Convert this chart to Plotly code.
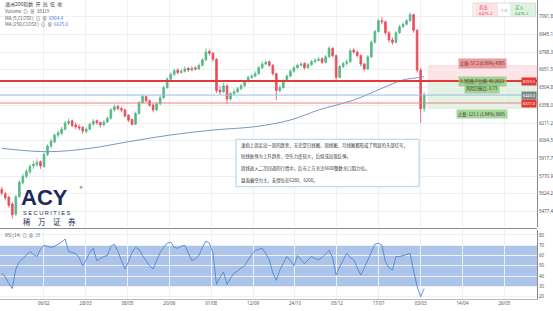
import plotly.graph_objects as go

# ---------------- data ----------------
closes = [5630, 5590, 5530, 5450, 5600, 5720, 5770, 5810, 5850, 5870,
          5885, 5855, 5950, 6020, 6060, 6110, 6130, 6160, 6210, 6225,
          6190, 6180, 6170, 6145, 6160, 6200, 6225, 6215, 6195, 6220,
          6250, 6320, 6345, 6330, 6320, 6270, 6235, 6200, 6290, 6380,
          6430, 6395, 6360, 6320, 6370, 6420, 6505, 6575, 6615, 6645,
          6630, 6640, 6660, 6650, 6665, 6660, 6690, 6735, 6800, 6790,
          6740, 6480, 6470, 6520, 6410, 6455, 6470, 6495, 6520, 6555,
          6590, 6600, 6620, 6670, 6700, 6715, 6690, 6620, 6480, 6505,
          6560, 6600, 6640, 6670, 6690, 6700, 6670, 6695, 6720, 6730,
          6740, 6715, 6760, 6830, 6770, 6590, 6680, 6705, 6720, 6810,
          6800, 6770, 6700, 6660, 6760, 6880, 6970, 7060, 7050, 6960,
          6900, 6880, 6960, 7010, 7030, 7060, 7110, 6980, 6650, 6330,
          6443]
opens = [5660, 5625, 5595, 5540, 5455, 5600, 5715, 5770, 5805, 5855,
         5865, 5890, 5850, 5950, 6020, 6055, 6110, 6125, 6160, 6210,
         6230, 6195, 6180, 6175, 6140, 6160, 6200, 6230, 6215, 6195,
         6220, 6250, 6320, 6350, 6330, 6320, 6275, 6240, 6200, 6290,
         6380, 6430, 6395, 6360, 6320, 6370, 6420, 6505, 6575, 6615,
         6650, 6630, 6640, 6665, 6650, 6670, 6660, 6690, 6735, 6805,
         6790, 6740, 6485, 6470, 6520, 6410, 6455, 6470, 6495, 6520,
         6555, 6590, 6600, 6620, 6670, 6700, 6720, 6690, 6620, 6480,
         6505, 6560, 6600, 6640, 6670, 6690, 6705, 6670, 6695, 6720,
         6730, 6745, 6715, 6760, 6830, 6770, 6590, 6680, 6705, 6720,
         6815, 6800, 6770, 6700, 6660, 6760, 6880, 6970, 7060, 7050,
         6960, 6900, 6880, 6960, 7010, 7030, 7060, 7110, 6980, 6650,
         6330]
highs = [5680, 5640, 5610, 5555, 5615, 5735, 5790, 5830, 5870, 5895,
         5910, 5900, 5965, 6035, 6080, 6125, 6150, 6180, 6230, 6250,
         6240, 6215, 6200, 6185, 6175, 6215, 6245, 6240, 6225, 6235,
         6265, 6335, 6365, 6360, 6345, 6330, 6285, 6250, 6305, 6395,
         6450, 6440, 6405, 6375, 6385, 6435, 6520, 6590, 6630, 6660,
         6665, 6660, 6680, 6675, 6685, 6680, 6705, 6750, 6830, 6820,
         6800, 6750, 6520, 6545, 6530, 6470, 6490, 6510, 6535, 6570,
         6605, 6620, 6640, 6685, 6720, 6735, 6730, 6700, 6630, 6525,
         6575, 6615, 6655, 6685, 6705, 6720, 6715, 6710, 6735, 6750,
         6760, 6755, 6775, 6850, 6840, 6780, 6695, 6720, 6740, 6830,
         6835, 6810, 6780, 6710, 6775, 6895, 6985, 7075, 7090, 7060,
         6975, 6920, 6975, 7025, 7045, 7075, 7130, 7120, 6990, 6670,
         6470]
lows = [5610, 5570, 5510, 5420, 5440, 5590, 5700, 5750, 5790, 5830,
        5850, 5830, 5840, 5935, 6000, 6045, 6090, 6110, 6150, 6195,
        6175, 6160, 6150, 6120, 6125, 6150, 6190, 6195, 6175, 6185,
        6210, 6240, 6305, 6315, 6300, 6255, 6220, 6190, 6195, 6280,
        6370, 6380, 6345, 6300, 6310, 6360, 6410, 6495, 6560, 6600,
        6615, 6620, 6630, 6635, 6640, 6645, 6650, 6680, 6725, 6770,
        6720, 6460, 6445, 6460, 6370, 6395, 6440, 6460, 6480, 6510,
        6545, 6575, 6590, 6610, 6660, 6690, 6675, 6605, 6400, 6465,
        6495, 6550, 6590, 6630, 6660, 6680, 6655, 6660, 6685, 6705,
        6720, 6700, 6705, 6750, 6755, 6570, 6580, 6665, 6690, 6710,
        6785, 6755, 6680, 6640, 6650, 6750, 6870, 6960, 7030, 6940,
        6880, 6860, 6870, 6950, 7000, 7020, 7050, 6960, 6630, 6211,
        6300]
rsi_values = [43, 39, 33, 28, 47, 54, 57, 61, 64, 61,
              59, 66, 70, 69, 68, 69, 71, 73, 76, 64,
              63, 62, 58, 50, 56, 63, 67, 55, 57, 59,
              60, 69, 71, 64, 55, 47, 54, 63, 68, 66,
              60, 55, 50, 47, 55, 63, 68, 72, 73, 68,
              67, 69, 70, 62, 55, 57, 60, 68, 74, 72,
              62, 32, 39, 44, 32, 38, 43, 45, 48, 50,
              56, 61, 65, 66, 67, 62, 56, 43, 36, 46,
              52, 59, 55, 50, 60, 56, 52, 56, 59, 57,
              56, 58, 62, 65, 58, 41, 49, 55, 62, 58,
              56, 48, 41, 48, 56, 64, 71, 72, 70, 54,
              48, 46, 59, 59, 60, 61, 62, 45, 30, 20,
              28]
ma250_bars = [0, 13, 25, 36, 48, 60, 72, 82, 90, 100, 108, 114, 119, 120]
ma250_values = [6001, 5973, 6001, 6056, 6112, 6153, 6181, 6236, 6319, 6402, 6499, 6568, 6590, 6595]

x_tick_labels = ["06/02", "28/03", "08/05", "20/06", "01/08", "12/09",
                 "24/10", "05/12", "17/01", "03/03", "14/04", "26/05"]
y_tick_values = [5477.4, 5624.2, 5770.9, 5917.7, 6064.5, 6211.2,
                 6358.0, 6504.8, 6651.5, 6798.3, 6945.1, 7091.8]
rsi_tick_values = [20, 30, 40, 50, 60, 70, 80]

resistance_level = 6559.5
support_level = 6377.0
stop_level = 6692.0
target_level = 6327.3
position_start_bar = 121

legend_lines = ["澳洲200指数  开  高  低  收", "Volume  ⊙  ⊗  38319"]
ma_legend = [("MA (5,CLOSE)", "6904.4"), ("MA (250,CLOSE)", "6625.0")]
comment_lines = [
    "澳指上周走出一周的跌势，无论是日线图、周线图、月线图都形成了明显的头部信号，",
    "短线依然为上升趋势，空头力度较大，后续或出现反弹。",
    "周线进入二次回调的行情中，后市上方关注6600整数关口阻力位。",
    "盘面偏空为主，支撑位在6280、6200。",
]
position_labels = ["止损: 57.2 (0.86%) 4995", "1.3倍账户比例: 46.2622", "风险回报比: 0.73", "止盈: 121.1 (1.84%) 9665"]
quote_sell = ("卖出", "6475.2")
quote_buy = ("买入", "6476.2")
quote_spread = "1.0"

# ---------------- layout helpers ----------------
W, H = 553, 311
ML, MR, MT, MB = 0, 16, 0, 12
PW, PH = W - ML - MR, H - MT - MB
BAR_PX = 3.52
x_range = [-0.5, PW / BAR_PX - 0.5]
y_range = [5348.6, 7231.4]
rsi_range = [17.8, 84.8]


def px(x):
    return x / PW


def py(y):
    return 1 - y / PH


CJK = "Noto Sans CJK SC"
bars = list(range(len(closes)))
tick_pos = [round(11.9 * (k + 1), 1) for k in range(len(x_tick_labels))]

fig = go.Figure()
fig.add_trace(go.Candlestick(
    x=bars, open=opens, high=highs, low=lows, close=closes,
    increasing=dict(line=dict(color="#53b987", width=0.8), fillcolor="#53b987"),
    decreasing=dict(line=dict(color="#eb4d5c", width=0.8), fillcolor="#eb4d5c"),
    whiskerwidth=0, xaxis="x", yaxis="y", hoverinfo="skip"))
fig.add_trace(go.Scatter(x=ma250_bars, y=ma250_values, mode="lines",
                         line=dict(color="#7896c6", width=1, shape="spline"),
                         xaxis="x", yaxis="y", hoverinfo="skip"))
fig.add_trace(go.Scatter(x=bars, y=rsi_values, mode="lines", line=dict(color="#4f86cc", width=0.9),
                         xaxis="x2", yaxis="y2", hoverinfo="skip"))

grid = "#eef0f4"
tickfont = dict(family="Noto Sans", size=4.5, color="#555")
fig.update_layout(
    width=W, height=H, margin=dict(l=ML, r=MR, t=MT, b=MB, pad=0),
    paper_bgcolor="white", plot_bgcolor="white", showlegend=False,
    xaxis=dict(domain=[0, 1], anchor="y", range=x_range, tickvals=tick_pos, showticklabels=False,
               showgrid=True, gridcolor=grid, gridwidth=1, zeroline=False, rangeslider=dict(visible=False),
               automargin=False),
    yaxis=dict(domain=[1 - 227 / PH, 1], anchor="x", side="right", range=y_range, tickvals=y_tick_values,
               ticktext=[f"{v:.1f}" for v in y_tick_values], tickfont=tickfont, showgrid=True, gridcolor=grid,
               zeroline=False, showline=True, linecolor="#8a8a8a", linewidth=1, ticks="", automargin=False),
    xaxis2=dict(domain=[0, 1], anchor="y2", range=x_range, matches="x", tickvals=tick_pos, ticktext=x_tick_labels,
                tickfont=tickfont, showgrid=True, gridcolor=grid, zeroline=False, showline=True,
                linecolor="#bbbbbb", ticks="", automargin=False),
    yaxis2=dict(domain=[0, 1 - 230 / PH], anchor="x2", side="right", range=rsi_range, tickvals=rsi_tick_values,
                tickfont=tickfont, showgrid=True, gridcolor=grid, zeroline=False, showline=True,
                linecolor="#8a8a8a", linewidth=1, ticks="", automargin=False),
)

shapes = [
    dict(type="rect", xref="paper", yref="y2", x0=0, x1=1, y0=30, y1=70, fillcolor="rgb(172,196,234)",
         line=dict(width=0), layer="below"),
    dict(type="rect", xref="x", yref="y", x0=position_start_bar, x1=x_range[1], y0=resistance_level, y1=stop_level,
         fillcolor="rgba(242,54,69,0.13)", line=dict(width=0), layer="below"),
    dict(type="rect", xref="x", yref="y", x0=position_start_bar, x1=x_range[1], y0=target_level, y1=resistance_level,
         fillcolor="rgba(76,175,80,0.16)", line=dict(width=0), layer="below"),
    dict(type="line", xref="paper", yref="y", x0=0, x1=1, y0=resistance_level, y1=resistance_level,
         line=dict(color="#e53935", width=2)),
    dict(type="line", xref="paper", yref="y", x0=0, x1=1, y0=closes[-1], y1=closes[-1],
         line=dict(color="#9dbbdc", width=1)),
    dict(type="line", xref="paper", yref="y", x0=0, x1=1, y0=support_level, y1=support_level,
         line=dict(color="#ee8080", width=1)),
    dict(type="line", xref="paper", yref="paper", x0=0, x1=1, y0=py(228.5), y1=py(228.5),
         line=dict(color="#8a8a8a", width=1)),
    dict(type="rect", xref="paper", yref="paper", x0=px(236), x1=px(419), y0=py(186.7), y1=py(139.3),
         fillcolor="white", line=dict(color="#a9d2e3", width=1)),
    dict(type="rect", xref="paper", yref="paper", x0=px(473), x1=px(535.5), y0=py(16.5), y1=py(3),
         fillcolor="white", line=dict(color="#dddddd", width=1)),
    dict(type="rect", xref="paper", yref="paper", x0=px(474.5), x1=px(498), y0=py(16), y1=py(3.5),
         fillcolor="rgba(242,54,69,0.14)", line=dict(width=0)),
    dict(type="rect", xref="paper", yref="paper", x0=px(510), x1=px(535), y0=py(16), y1=py(3.5),
         fillcolor="rgba(76,175,80,0.18)", line=dict(width=0)),
]
fig.update_layout(shapes=shapes)

ann = []


def txt(x, y, text, size=4.5, color="#333", anchor="left", family=CJK, **kw):
    ann.append(dict(xref="paper", yref="paper", x=px(x), y=py(y), text=text, showarrow=False,
                    xanchor=anchor, yanchor="middle", font=dict(family=family, size=size, color=color), **kw))


# legend block top-left
txt(3.3, 4.2, legend_lines[0], size=5, color="#444")
txt(3.3, 11, legend_lines[1], size=4.6, color="#555")
for k, (name, val) in enumerate(ma_legend):
    txt(3.3, 17.6 + 6.8 * k, f"{name}  ⊙  ⊗  <span style='color:#3b7dd8'>{val}</span>", size=4.6, color="#555")

# RSI title
txt(3.3, 234.5, f"RSI (14)  ⊙  ⊗  <span style='color:#3b7dd8'>{rsi_values[-1]}</span>", size=4.4, color="#555")

# comment box lines
for k, line in enumerate(comment_lines):
    txt(239.3, [145, 156.7, 168.3, 180.7][k], line, size=4.4, color="#333")

# quote box
txt(477, 7.3, quote_sell[0], size=4.3, color="#e04050")
txt(477, 12.7, quote_sell[1], size=4.3, color="#e04050", family="Noto Sans")
txt(504, 10, quote_spread, size=4.3, color="#888", anchor="center", family="Noto Sans")
txt(512.5, 7.3, quote_buy[0], size=4.3, color="#3f9f52")
txt(512.5, 12.7, quote_buy[1], size=4.3, color="#3f9f52", family="Noto Sans")

# ACY logo
txt(19, 197, "<b>ACY</b>", size=22, color="#1c2b5a", family="Liberation Sans")
txt(77.5, 187.5, "®", size=4, color="#1c2b5a", family="DejaVu Sans")
txt(20.5, 213.2, "S E C U R I T I E S", size=5.6, color="#1c2b5a", family="Liberation Sans")
txt(20.5, 221.5, "稀　万　证　券", size=7.5, color="#1c2b5a")

# position tool labels (data coords)
pos_x = 136.5
pos_y = [stop_level + 16, resistance_level - 3, resistance_level - 63, target_level - 45]
pos_bg = ["rgba(236,120,124,0.75)", "rgba(140,200,120,0.75)", "rgba(140,200,120,0.75)", "rgba(140,200,120,0.75)"]
for label, yv, bg in zip(position_labels, pos_y, pos_bg):
    ann.append(dict(xref="x", yref="y", x=pos_x, y=yv, text=label, showarrow=False, xanchor="center",
                    yanchor="middle", bgcolor=bg, borderpad=1,
                    font=dict(family=CJK, size=4.2, color="#333")))

# right-axis price labels
for level, bg in [(resistance_level, "#e53935"), (closes[-1], "#7d8b88"), (support_level, "#e53935")]:
    ann.append(dict(xref="paper", yref="y", x=1, y=level, text=f"{level:.1f}", showarrow=False,
                    xanchor="right", yanchor="middle", bgcolor=bg, borderpad=1,
                    font=dict(family="Noto Sans", size=3.8, color="white")))

fig.update_layout(annotations=ann)
fig.write_html("out.html")
